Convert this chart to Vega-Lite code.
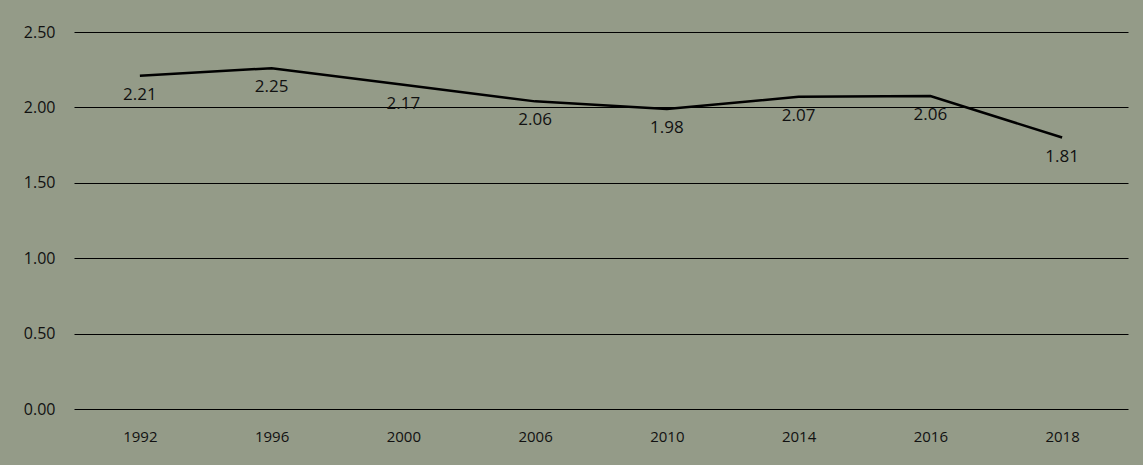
{
  "$schema": "https://vega.github.io/schema/vega-lite/v6.json",
  "autosize": "none",
  "width": 1054,
  "height": 377,
  "padding": {"left": 74, "top": 32, "right": 15, "bottom": 56},
  "background": "#949b88",
  "config": {
    "view": {"stroke": null},
    "font": "Open Sans"
  },
  "data": {
    "values": [
      {"year": "1992", "value": 2.21, "label": "2.21"},
      {"year": "1996", "value": 2.26, "label": "2.25"},
      {"year": "2000", "value": 2.15, "label": "2.17"},
      {"year": "2006", "value": 2.04, "label": "2.06"},
      {"year": "2010", "value": 1.99, "label": "1.98"},
      {"year": "2014", "value": 2.07, "label": "2.07"},
      {"year": "2016", "value": 2.075, "label": "2.06"},
      {"year": "2018", "value": 1.8, "label": "1.81"}
    ]
  },
  "encoding": {
    "x": {
      "field": "year", "type": "ordinal", "sort": null,
      "scale": {"paddingInner": 0, "paddingOuter": 0},
      "axis": {"title": null, "labelAngle": 0, "domain": false, "ticks": false, "labelPadding": 20, "labelFontSize": 15, "labelColor": "#111111", "labelFont": "Open Sans"}
    },
    "y": {
      "field": "value", "type": "quantitative",
      "scale": {"domain": [0, 2.5]},
      "axis": {"title": null, "values": [0, 0.5, 1, 1.5, 2, 2.5], "format": ".2f", "domain": false, "ticks": false, "labelPadding": 19, "labelFontSize": 16, "labelColor": "#111111", "gridColor": "#000000", "gridOpacity": 1, "gridWidth": 1, "labelFont": "Open Sans"}
    }
  },
  "layer": [
    {"mark": {"type": "line", "color": "#000000", "strokeWidth": 2.5}},
    {
      "mark": {"type": "text", "dy": 19, "fontSize": 17, "color": "#111111", "font": "Open Sans", "baseline": "middle"},
      "encoding": {"text": {"field": "label", "type": "nominal"}}
    }
  ]
}
